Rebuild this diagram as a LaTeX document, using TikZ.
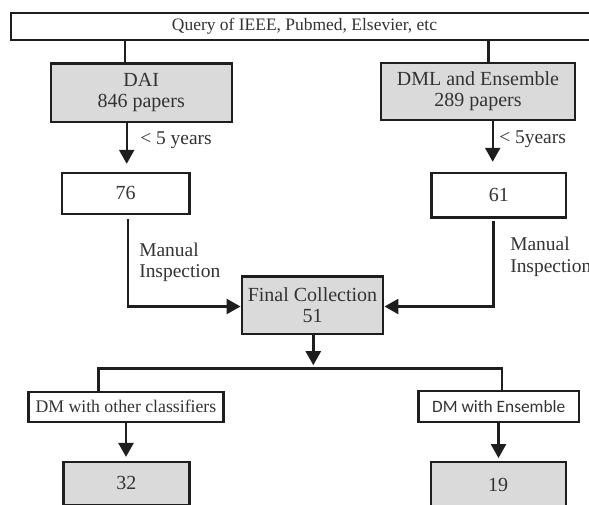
\documentclass[tikz,border=0pt]{standalone}
\usepackage{fontspec}
\setmainfont{Liberation Serif}
\newfontfamily\calib{Carlito}
\usetikzlibrary{arrows.meta}
\definecolor{boxgrey}{HTML}{DADADA}
\definecolor{ink}{HTML}{1E1E1E}
\definecolor{txt}{HTML}{333333}
\def\pu{0.75pt}
\tikzset{
  base/.style={draw=ink, line width=1.8pt, inner sep=0pt, text=txt, align=center},
  greybox/.style={base, fill=boxgrey, font=\fontsize{15}{16}\selectfont},
  whitebox/.style={base, fill=white, font=\fontsize{15}{16}\selectfont},
  smallbox/.style={base, fill=white, font=\fontsize{13.3}{15}\selectfont},
  lbl/.style={inner sep=0pt, anchor=west, align=left, text=txt, font=\fontsize{14.6}{16.2}\selectfont},
  conn/.style={draw=ink, line width=1.8pt},
  arr/.style={conn, -{Triangle[width=11.25pt, length=10.5pt]}},
}
\begin{document}
\begin{tikzpicture}[x=0.75pt, y=-0.75pt]
\useasboundingbox (0,0) rectangle (589,504);
% boxes
\node[whitebox, font=\fontsize{13.1}{15}\selectfont, minimum width=587*\pu, minimum height=27*\pu] (query) at (304.5,26.5) {Query of IEEE, Pubmed, Elsevier, etc};
\node[greybox, minimum width=181*\pu, minimum height=58.4*\pu] (dai) at (141.2,92.5) {DAI\\846 papers};
\node[greybox, minimum width=193.5*\pu, minimum height=57*\pu] (dml) at (478,91.5) {DML and Ensemble\\289 papers};
\node[whitebox, minimum width=127.3*\pu, minimum height=41.3*\pu] (n76) at (125.7,193.4) {76};
\node[whitebox, minimum width=134.5*\pu, minimum height=44.6*\pu] (n61) at (498.8,195) {61};
\node[greybox, minimum width=141.5*\pu, minimum height=57.3*\pu] (final) at (312.5,305.3) {Final Collection\\51};
\node[smallbox, minimum width=195.2*\pu, minimum height=30*\pu] (dmo) at (125.9,406.7) {DM with other classifiers};
\node[smallbox, font=\calib\fontsize{13}{15}\selectfont, minimum width=160.7*\pu, minimum height=31*\pu] (dme) at (498.7,406.7) {DM with Ensemble};
\node[greybox, minimum width=126*\pu, minimum height=43.4*\pu] (n32) at (126.3,483.4) {32};
\node[greybox, minimum width=135*\pu, minimum height=46.6*\pu] (n19) at (498.2,485) {19};
% labels
\node[lbl] (y1) at (140,140) {\textless{} 5 years};
\node[lbl] (y2) at (499,139) {\textless{} 5years};
\node[lbl] (m1) at (139,262.5) {Manual\\Inspection};
\node[lbl] (m2) at (510,257) {Manual\\Inspection};
% column coordinates
\coordinate (qa) at (125,0);
\coordinate (qb) at (488.4,0);
\coordinate (la) at (126.7,0);
\coordinate (ra) at (492.7,0);
\coordinate (lb) at (127.7,306.5);
\coordinate (rb) at (493.5,306.5);
\coordinate (fx) at (313.3,368.3);
\coordinate (bl) at (98.5,368.3);
\coordinate (br) at (502,368.3);
\coordinate (lc) at (126,0);
\coordinate (rc) at (498.5,0);
% connectors
\draw[conn] (query.south -| qa) -- (dai.north -| qa);
\draw[conn] (query.south -| qb) -- (dml.north -| qb);
\draw[arr, shorten >=5.8pt] (dai.south -| la) -- (n76.north -| la);
\draw[arr, shorten >=7.3pt] (dml.south -| ra) -- (n61.north -| ra);
\draw[arr, shorten <=3pt] (n76.south -| lb) -- (lb) -- (final.west |- lb);
\draw[arr, shorten <=2pt] (n61.south -| rb) -- (rb) -- (final.east |- rb);
\draw[arr, shorten >=2.3pt] (final.south -| fx) -- (fx);
\draw[conn] (dmo.north -| bl) -- (bl) -- (br) -- (dme.north -| br);
\draw[arr, shorten >=2.7pt] (dmo.south -| lc) -- (n32.north -| lc);
\draw[arr, shorten >=1.8pt] (dme.south -| rc) -- (n19.north -| rc);
\end{tikzpicture}
\end{document}
